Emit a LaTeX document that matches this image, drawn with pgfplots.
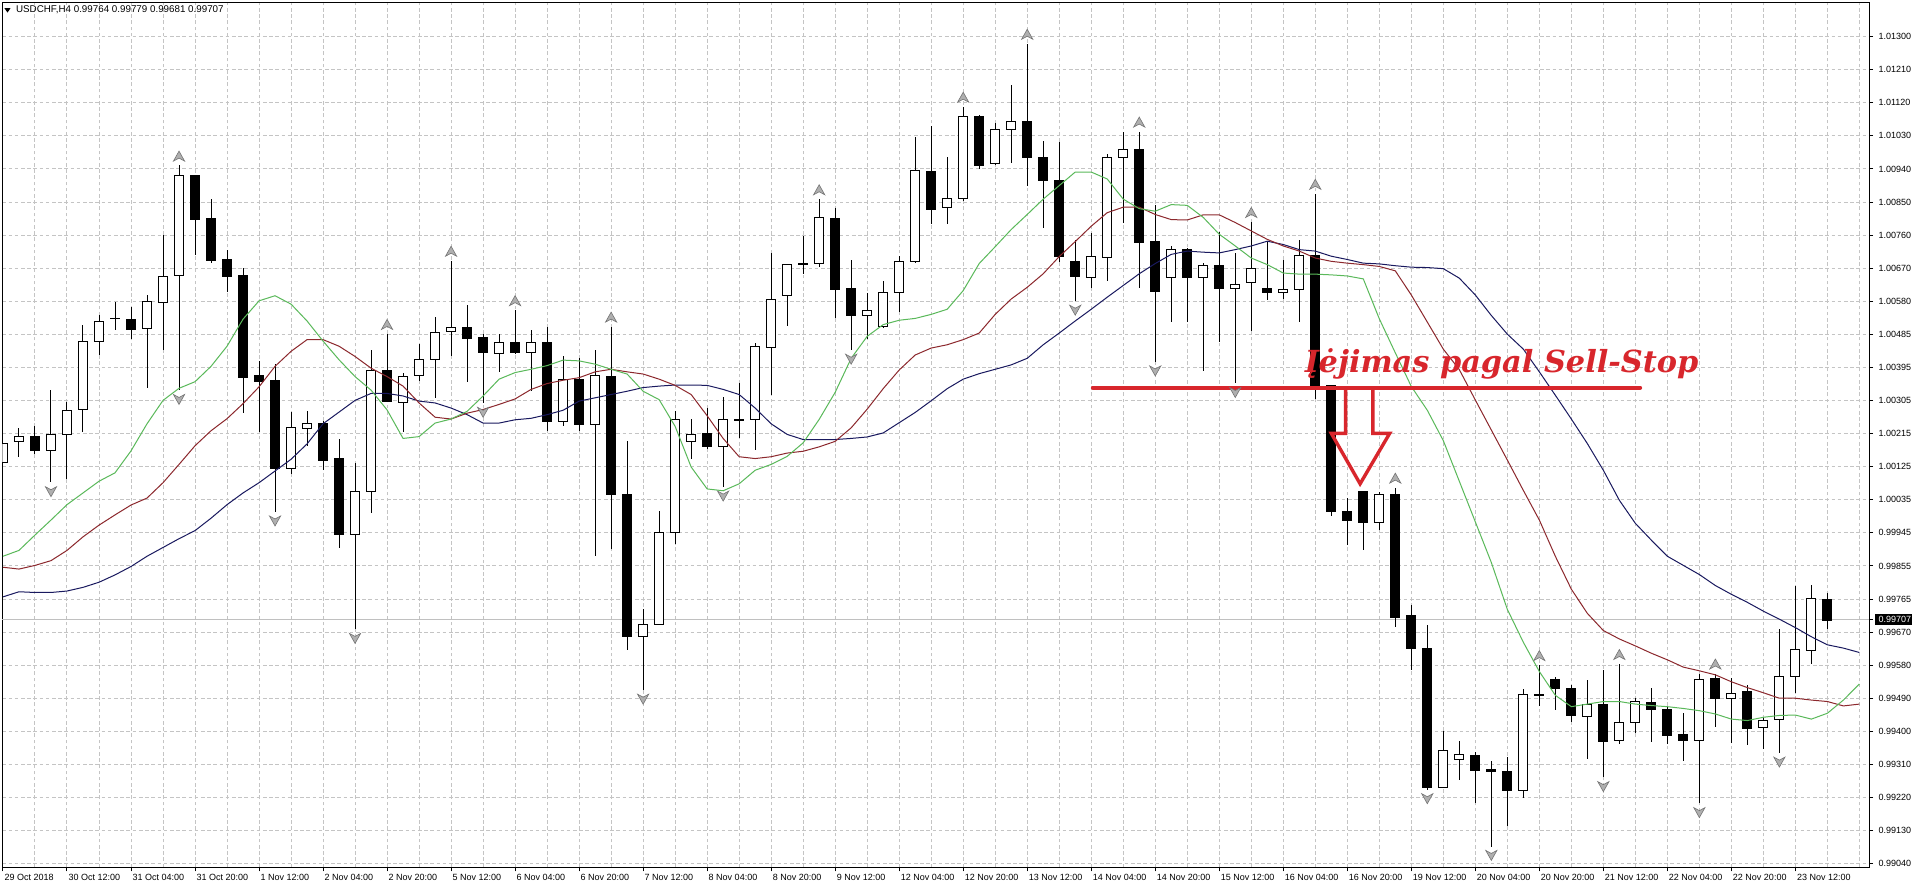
\documentclass[border=0pt]{standalone}
\usepackage{pgfplots}
\pgfplotsset{compat=1.18}
\usepackage{pgfplotstable}
\usepackage{graphicx}
\usepackage{fontspec}
\setmainfont{Liberation Sans}
\newfontfamily\annfont{DejaVu Serif}
\definecolor{gridc}{RGB}{196,196,196}
\definecolor{curline}{RGB}{192,192,192}
\definecolor{lips}{RGB}{90,185,90}
\definecolor{teeth}{RGB}{140,40,45}
\definecolor{jaw}{RGB}{25,25,95}
\definecolor{annred}{RGB}{216,38,44}
\definecolor{fracfill}{RGB}{175,175,175}
\definecolor{fracdraw}{RGB}{115,115,115}
\pgfdeclareplotmark{fup}{%
  \pgfpathmoveto{\pgfqpoint{0pt}{2.6pt}}%
  \pgfpathlineto{\pgfqpoint{2.8pt}{-2.4pt}}%
  \pgfpathlineto{\pgfqpoint{0pt}{-0.9pt}}%
  \pgfpathlineto{\pgfqpoint{-2.8pt}{-2.4pt}}%
  \pgfpathclose\pgfusepathqfillstroke}
\pgfdeclareplotmark{fdown}{%
  \pgfpathmoveto{\pgfqpoint{0pt}{-2.6pt}}%
  \pgfpathlineto{\pgfqpoint{2.8pt}{2.4pt}}%
  \pgfpathlineto{\pgfqpoint{0pt}{0.9pt}}%
  \pgfpathlineto{\pgfqpoint{-2.8pt}{2.4pt}}%
  \pgfpathclose\pgfusepathqfillstroke}

% USDCHF H4 candles: index open high low close upfractal downfractal
\pgfplotstableread{
i o h l c fu fd
0 1.00138 1.00214 1.00062 1.00191 0 0
1 1.00193 1.00233 1.00154 1.00208 0 0
2 1.00208 1.00236 1.00161 1.00170 0 0
3 1.00170 1.00334 1.00082 1.00214 0 1
4 1.00214 1.00302 1.00092 1.00280 0 0
5 1.00280 1.00512 1.00219 1.00468 0 0
6 1.00468 1.00539 1.00431 1.00522 0 0
7 1.00531 1.00577 1.00499 1.00529 0 0
8 1.00529 1.00561 1.00474 1.00502 0 0
9 1.00502 1.00594 1.00341 1.00577 0 0
10 1.00574 1.00760 1.00445 1.00646 0 0
11 1.00648 1.00948 1.00334 1.00921 1 1
12 1.00921 1.00921 1.00703 1.00802 0 0
13 1.00804 1.00856 1.00683 1.00690 0 0
14 1.00692 1.00719 1.00603 1.00647 0 0
15 1.00646 1.00668 1.00273 1.00368 0 0
16 1.00373 1.00414 1.00219 1.00357 0 0
17 1.00359 1.00406 1.00002 1.00121 0 1
18 1.00121 1.00274 1.00106 1.00233 0 0
19 1.00230 1.00276 1.00182 1.00244 0 0
20 1.00244 1.00249 1.00115 1.00142 0 0
21 1.00147 1.00201 0.99904 0.99941 0 0
22 0.99941 1.00136 0.99681 1.00058 0 1
23 1.00058 1.00444 0.99998 1.00388 0 0
24 1.00388 1.00488 1.00304 1.00304 1 0
25 1.00301 1.00382 1.00221 1.00373 0 0
26 1.00375 1.00459 1.00359 1.00419 0 0
27 1.00418 1.00533 1.00313 1.00492 0 0
28 1.00495 1.00688 1.00428 1.00508 1 0
29 1.00508 1.00567 1.00357 1.00477 0 0
30 1.00478 1.00488 1.00299 1.00437 0 1
31 1.00435 1.00488 1.00385 1.00464 0 0
32 1.00464 1.00553 1.00433 1.00437 1 0
33 1.00437 1.00497 1.00331 1.00464 0 0
34 1.00464 1.00508 1.00224 1.00248 0 0
35 1.00248 1.00428 1.00237 1.00364 0 0
36 1.00364 1.00422 1.00224 1.00241 0 0
37 1.00241 1.00444 0.99882 1.00373 0 0
38 1.00373 1.00508 0.99901 1.00050 1 0
39 1.00048 1.00196 0.99624 0.99660 0 0
40 0.99663 0.99737 0.99515 0.99695 0 1
41 0.99695 1.00004 0.99695 0.99946 0 0
42 0.99946 1.00278 0.99914 1.00253 0 0
43 1.00194 1.00256 1.00147 1.00214 0 0
44 1.00218 1.00285 1.00175 1.00181 0 0
45 1.00181 1.00316 1.00070 1.00255 0 1
46 1.00254 1.00354 1.00202 1.00252 0 0
47 1.00255 1.00463 1.00172 1.00453 0 0
48 1.00451 1.00709 1.00320 1.00582 0 0
49 1.00592 1.00680 1.00509 1.00678 0 0
50 1.00681 1.00754 1.00650 1.00677 0 0
51 1.00680 1.00856 1.00671 1.00806 1 0
52 1.00803 1.00834 1.00532 1.00609 0 0
53 1.00611 1.00691 1.00444 1.00537 0 1
54 1.00538 1.00601 1.00476 1.00552 0 0
55 1.00509 1.00632 1.00504 1.00601 0 0
56 1.00601 1.00701 1.00549 1.00686 0 0
57 1.00685 1.01027 1.00682 1.00934 0 0
58 1.00932 1.01056 1.00788 1.00830 0 0
59 1.00834 1.00971 1.00788 1.00858 0 0
60 1.00858 1.01109 1.00853 1.01082 1 0
61 1.01082 1.01087 1.00939 1.00948 0 0
62 1.00953 1.01066 1.00950 1.01047 0 0
63 1.01048 1.01168 1.00956 1.01069 0 0
64 1.01067 1.01281 1.00893 1.00969 1 0
65 1.00971 1.01015 1.00777 1.00907 0 0
66 1.00908 1.01013 1.00685 1.00699 0 0
67 1.00686 1.00745 1.00578 1.00646 0 1
68 1.00643 1.00763 1.00614 1.00699 0 0
69 1.00696 1.00981 1.00634 1.00969 0 0
70 1.00970 1.01041 1.00793 1.00992 0 0
71 1.00993 1.01041 1.00615 1.00738 1 0
72 1.00740 1.00842 1.00412 1.00603 0 1
73 1.00642 1.00729 1.00521 1.00720 0 0
74 1.00720 1.00723 1.00520 1.00642 0 0
75 1.00642 1.00683 1.00387 1.00675 0 0
76 1.00675 1.00769 1.00466 1.00612 0 0
77 1.00614 1.00709 1.00353 1.00624 0 1
78 1.00628 1.00794 1.00496 1.00666 1 0
79 1.00611 1.00743 1.00581 1.00601 0 0
80 1.00601 1.00691 1.00584 1.00609 0 0
81 1.00609 1.00743 1.00521 1.00702 0 0
82 1.00702 1.00871 1.00313 1.00348 1 0
83 1.00348 1.00348 0.99990 1.00002 0 0
84 1.00002 1.00039 0.99911 0.99977 0 0
85 1.00059 1.00059 0.99897 0.99974 0 0
86 0.99974 1.00055 0.99952 1.00050 0 0
87 1.00048 1.00068 0.99687 0.99713 1 0
88 0.99717 0.99747 0.99569 0.99627 0 0
89 0.99629 0.99694 0.99243 0.99250 0 1
90 0.99248 0.99402 0.99246 0.99350 0 0
91 0.99325 0.99375 0.99269 0.99340 0 0
92 0.99336 0.99345 0.99207 0.99296 0 0
93 0.99298 0.99321 0.99088 0.99292 0 1
94 0.99291 0.99334 0.99143 0.99240 0 0
95 0.99240 0.99517 0.99221 0.99503 0 0
96 0.99501 0.99583 0.99472 0.99502 1 0
97 0.99542 0.99551 0.99461 0.99518 0 0
98 0.99520 0.99530 0.99428 0.99445 0 0
99 0.99443 0.99542 0.99327 0.99476 0 0
100 0.99476 0.99568 0.99276 0.99374 0 1
101 0.99377 0.99586 0.99368 0.99426 1 0
102 0.99426 0.99492 0.99398 0.99484 0 0
103 0.99481 0.99521 0.99374 0.99461 0 0
104 0.99463 0.99469 0.99368 0.99390 0 0
105 0.99392 0.99454 0.99322 0.99376 0 0
106 0.99376 0.99560 0.99205 0.99545 0 1
107 0.99545 0.99560 0.99414 0.99491 1 0
108 0.99492 0.99548 0.99371 0.99506 0 0
109 0.99512 0.99528 0.99364 0.99409 0 0
110 0.99413 0.99442 0.99355 0.99432 0 0
111 0.99434 0.99681 0.99343 0.99552 0 1
112 0.99552 0.99800 0.99506 0.99624 0 0
113 0.99624 0.99802 0.99585 0.99765 0 0
114 0.99764 0.99779 0.99681 0.99707 0 0
}\candles

% Alligator lines: lips (green), teeth (red), jaw (blue)
\pgfplotstableread{
i lips teeth jaw
0 0.99880 0.99850 0.99769
1 0.99896 0.99845 0.99783
2 0.99938 0.99855 0.99781
3 0.99979 0.99868 0.99781
4 1.00021 0.99896 0.99785
5 1.00053 0.99933 0.99795
6 1.00085 0.99965 0.99809
7 1.00108 0.99993 0.99829
8 1.00168 1.00020 0.99852
9 1.00242 1.00039 0.99880
10 1.00306 1.00081 0.99904
11 1.00339 1.00131 0.99928
12 1.00357 1.00182 0.99950
13 1.00399 1.00223 0.99984
14 1.00454 1.00256 1.00021
15 1.00528 1.00297 1.00053
16 1.00578 1.00343 1.00081
17 1.00592 1.00399 1.00113
18 1.00569 1.00440 1.00145
19 1.00523 1.00472 1.00187
20 1.00468 1.00472 1.00242
21 1.00417 1.00454 1.00274
22 1.00371 1.00426 1.00306
23 1.00334 1.00394 1.00325
24 1.00280 1.00371 1.00325
25 1.00202 1.00345 1.00318
26 1.00207 1.00299 1.00304
27 1.00244 1.00260 1.00299
28 1.00255 1.00255 1.00285
29 1.00276 1.00271 1.00267
30 1.00318 1.00281 1.00244
31 1.00364 1.00295 1.00244
32 1.00382 1.00310 1.00253
33 1.00391 1.00336 1.00257
34 1.00401 1.00352 1.00267
35 1.00416 1.00361 1.00279
36 1.00414 1.00368 1.00304
37 1.00405 1.00384 1.00313
38 1.00391 1.00391 1.00322
39 1.00378 1.00384 1.00331
40 1.00331 1.00378 1.00341
41 1.00308 1.00364 1.00345
42 1.00235 1.00347 1.00348
43 1.00124 1.00322 1.00348
44 1.00064 1.00264 1.00347
45 1.00059 1.00202 1.00336
46 1.00078 1.00152 1.00322
47 1.00115 1.00147 1.00285
48 1.00131 1.00152 1.00242
49 1.00153 1.00162 1.00213
50 1.00190 1.00167 1.00199
51 1.00254 1.00179 1.00199
52 1.00328 1.00194 1.00199
53 1.00421 1.00231 1.00202
54 1.00481 1.00282 1.00206
55 1.00513 1.00338 1.00217
56 1.00525 1.00389 1.00245
57 1.00530 1.00430 1.00273
58 1.00541 1.00449 1.00305
59 1.00555 1.00458 1.00338
60 1.00606 1.00472 1.00364
61 1.00680 1.00490 1.00379
62 1.00726 1.00541 1.00391
63 1.00773 1.00583 1.00403
64 1.00814 1.00615 1.00421
65 1.00856 1.00652 1.00458
66 1.00893 1.00699 1.00490
67 1.00930 1.00740 1.00523
68 1.00930 1.00782 1.00555
69 1.00911 1.00819 1.00588
70 1.00856 1.00834 1.00620
71 1.00830 1.00834 1.00652
72 1.00823 1.00814 1.00680
73 1.00841 1.00800 1.00705
74 1.00839 1.00799 1.00714
75 1.00806 1.00813 1.00711
76 1.00760 1.00813 1.00709
77 1.00728 1.00792 1.00718
78 1.00695 1.00769 1.00728
79 1.00677 1.00746 1.00741
80 1.00654 1.00728 1.00732
81 1.00651 1.00714 1.00718
82 1.00651 1.00695 1.00714
83 1.00649 1.00686 1.00700
84 1.00646 1.00681 1.00691
85 1.00638 1.00677 1.00681
86 1.00529 1.00672 1.00679
87 1.00436 1.00660 1.00674
88 1.00344 1.00594 1.00670
89 1.00279 1.00520 1.00669
90 1.00196 1.00446 1.00666
91 1.00085 1.00390 1.00640
92 0.99974 1.00307 1.00594
93 0.99863 1.00225 1.00538
94 0.99735 1.00143 1.00487
95 0.99645 1.00060 1.00446
96 0.99565 0.99979 1.00384
97 0.99500 0.99880 1.00320
98 0.99469 0.99790 1.00255
99 0.99476 0.99724 1.00188
100 0.99483 0.99677 1.00115
101 0.99483 0.99654 1.00033
102 0.99476 0.99635 0.99970
103 0.99472 0.99615 0.99924
104 0.99469 0.99597 0.99880
105 0.99464 0.99577 0.99855
106 0.99458 0.99567 0.99830
107 0.99449 0.99556 0.99800
108 0.99435 0.99537 0.99776
109 0.99431 0.99521 0.99754
110 0.99440 0.99507 0.99730
111 0.99445 0.99492 0.99708
112 0.99446 0.99492 0.99685
113 0.99435 0.99487 0.99660
114 0.99451 0.99483 0.99638
115 0.99487 0.99471 0.99629
116 0.99531 0.99476 0.99617
}\alligator

\begin{document}
\begin{tikzpicture}
\fill[white] (-1.25pt,-10.35pt) rectangle (954.75pt,433.65pt);
\begin{axis}[
  at={(0,0)}, anchor=south west,
  width=933.25pt, height=432.15pt, scale only axis,
  xmin=-0.03, xmax=116.6, ymin=0.99030, ymax=1.01392,
  axis line style={line width=0.5pt, black},
  tick align=outside, major tick length=2pt, minor tick length=0pt,
  tick style={black, line width=0.5pt},
  xtick pos=bottom, ytick pos=right, yticklabel pos=right,
  xtick={0,4,...,112}, minor xtick={2,6,...,114,116},
  xticklabels={29 Oct 2018, 30 Oct 12:00, 31 Oct 04:00, 31 Oct 20:00, 1 Nov 12:00, 2 Nov 04:00, 2 Nov 20:00, 5 Nov 12:00, 6 Nov 04:00, 6 Nov 20:00, 7 Nov 12:00, 8 Nov 04:00, 8 Nov 20:00, 9 Nov 12:00, 12 Nov 04:00, 12 Nov 20:00, 13 Nov 12:00, 14 Nov 04:00, 14 Nov 20:00, 15 Nov 12:00, 16 Nov 04:00, 16 Nov 20:00, 19 Nov 12:00, 20 Nov 04:00, 20 Nov 20:00, 21 Nov 12:00, 22 Nov 04:00, 22 Nov 20:00, 23 Nov 12:00},
  ytick={1.01300,1.012096,1.011192,1.010288,1.009384,1.00848,1.007576,1.006672,1.005768,1.004864,1.00396,1.003056,1.002152,1.001248,1.000344,0.99944,0.998536,0.997632,0.996728,0.995824,0.99492,0.994016,0.993112,0.992208,0.991304,0.9904},
  yticklabels={1.01300,1.01210,1.01120,1.01030,1.00940,1.00850,1.00760,1.00670,1.00580,1.00485,1.00395,1.00305,1.00215,1.00125,1.00035,0.99945,0.99855,0.99765,0.99670,0.99580,0.99490,0.99400,0.99310,0.99220,0.99130,0.99040},
  grid=both,
  major grid style={gridc, dash pattern=on 1.8pt off 1.3pt, line width=0.5pt},
  minor grid style={gridc, dash pattern=on 1.8pt off 1.3pt, line width=0.5pt},
  ticklabel style={font=\fontsize{4.5pt}{5pt}\selectfont},
  xticklabel style={anchor=north west, inner sep=0pt, xshift=0.6pt, yshift=-1.2pt},
  yticklabel style={anchor=west, inner sep=0pt, xshift=2.6pt},
  extra y ticks={0.99707}, extra y tick labels={0.99707},
  extra y tick style={grid=major, major grid style={curline, solid, line width=0.5pt},
    yticklabel style={fill=black, text=white, inner xsep=1.6pt, inner ysep=1pt, xshift=-1.6pt}},
  /pgf/number format/assume math mode=true,
]
% wicks
\addplot[draw=none, mark=none, forget plot,
  error bars/.cd, y dir=both, y explicit, error mark=none,
  error bar style={draw=black, solid, line width=0.5pt}]
  table[x=i, y expr={(\thisrow{h}+\thisrow{l})/2}, y error expr={(\thisrow{h}-\thisrow{l})/2}] {\candles};
% bodies (black outline / black fill)
\addplot[draw=none, mark=none, forget plot,
  error bars/.cd, y dir=both, y explicit, error mark=none,
  error bar style={draw=black, solid, line width=5pt}]
  table[x=i, y expr={(\thisrow{o}+\thisrow{c})/2}, y error expr={abs(\thisrow{o}-\thisrow{c})/2+0.0000137}] {\candles};
% white interior of rising candles
\addplot[draw=none, mark=none, forget plot,
  restrict expr to domain={\thisrow{c}-\thisrow{o}}{0.00003:1},
  error bars/.cd, y dir=both, y explicit, error mark=none,
  error bar style={draw=white, solid, line width=4pt}]
  table[x=i, y expr={(\thisrow{o}+\thisrow{c})/2}, y error expr={(\thisrow{c}-\thisrow{o})/2-0.0000137}] {\candles};
% Alligator
\addplot[jaw, line width=0.5pt, mark=none] table[x=i, y=jaw] {\alligator};
\addplot[teeth, line width=0.5pt, mark=none] table[x=i, y=teeth] {\alligator};
\addplot[lips, line width=0.5pt, mark=none] table[x=i, y=lips] {\alligator};
% fractals
\addplot[only marks, mark=fup, mark options={fill=fracfill, draw=fracdraw, line width=0.3pt},
  restrict expr to domain={\thisrow{fu}}{0.5:1.5}]
  table[x=i, y expr={\thisrow{h}+0.00025}] {\candles};
\addplot[only marks, mark=fdown, mark options={fill=fracfill, draw=fracdraw, line width=0.3pt},
  restrict expr to domain={\thisrow{fd}}{0.5:1.5}]
  table[x=i, y expr={\thisrow{l}-0.00025}] {\candles};
% annotation: sell-stop entry level and arrow
\addplot[annred, line width=2pt, line cap=round, mark=none] coordinates {(68.1,1.00341) (102.3,1.00341)};
\addplot[annred, line width=1.7pt, line join=miter, mark=none] coordinates {(83.9,1.00341) (83.9,1.00216) (83.0,1.00216) (84.8,1.00078) (86.65,1.00216) (85.6,1.00216) (85.6,1.00341)};
\node[anchor=base west, inner sep=0pt, text=annred] at (axis cs:81.3,1.00382)
  {\resizebox{197pt}{!}{\annfont\bfseries\itshape Įėjimas pagal Sell-Stop}};
% title
\fill[black] (rel axis cs:0,1) ++(1.0pt,-2.6pt) -- ++(3pt,0pt) -- ++(-1.5pt,-2.2pt) -- cycle;
\node[anchor=west, inner sep=0pt, font=\fontsize{4.9pt}{5.5pt}\selectfont] at (rel axis cs:0,1) [xshift=6.6pt, yshift=-3.6pt]
  {USDCHF,H4 0.99764 0.99779 0.99681 0.99707};
\end{axis}
\pgfresetboundingbox
\path[use as bounding box] (-1.25pt,-10.35pt) rectangle (954.75pt,433.65pt);
\end{tikzpicture}
\end{document}
